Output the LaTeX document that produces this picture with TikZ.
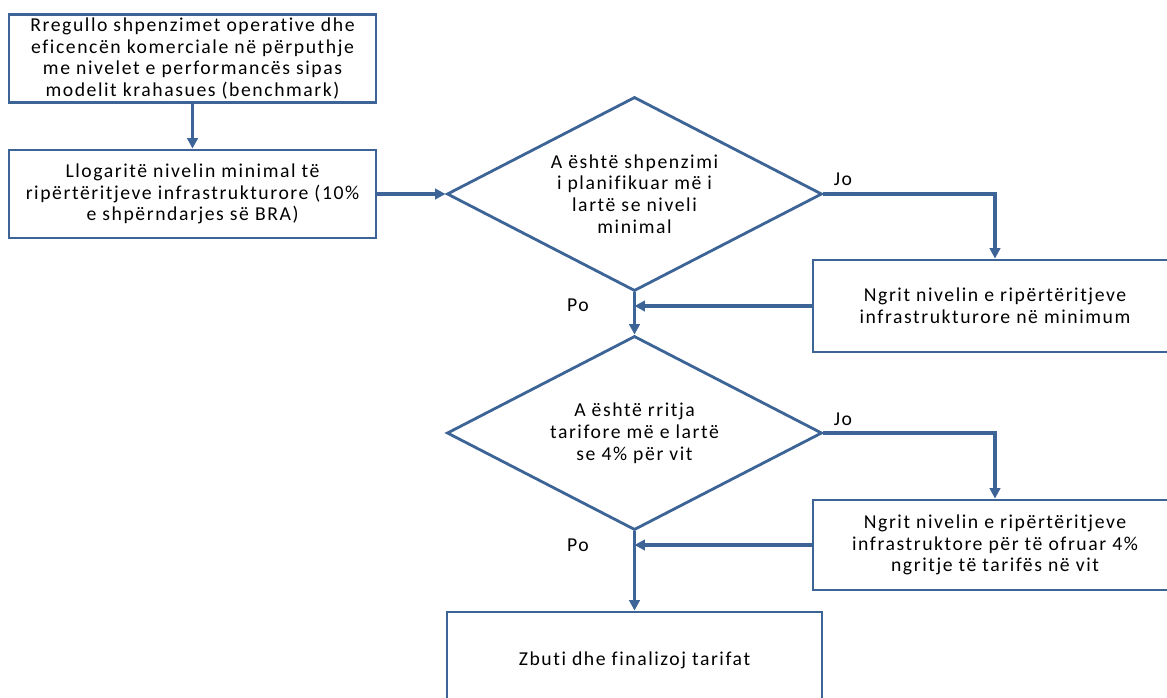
\documentclass[tikz,border=0pt]{standalone}
\usepackage{fontspec}
\setmainfont{Carlito}[LetterSpace=8,Ligatures={NoCommon,NoRare}]
\usetikzlibrary{arrows.meta,shapes.geometric}
\definecolor{flowblue}{RGB}{60,100,150}

\begin{document}
\begin{tikzpicture}[x=0.025cm,y=-0.025cm,
    font=\fontsize{14}{15.5}\selectfont,
    box/.style={draw=flowblue,line width=2pt,align=center,inner sep=0pt},
    ask/.style={draw=flowblue,line width=2pt,align=center,inner sep=0pt,shape=diamond,aspect=1.93,minimum width=9.375cm,minimum height=4.85cm},
    arr/.style={draw=flowblue,line width=2.2pt,-{Triangle[length=2.6mm,width=2.6mm]}}]
    \useasboundingbox (0,0) rectangle (1167,698);

    \node[box,minimum width=9.175cm,minimum height=2.2cm] (adjust) at (192.5,58.5)
        {Rregullo shpenzimet operative dhe\\eficencën komerciale në përputhje\\me nivelet e performancës sipas\\modelit krahasues (benchmark)};
    \node[box,minimum width=9.175cm,minimum height=2.2cm] (minlevel) at (192.5,194)
        {Llogaritë nivelin minimal të\\ripërtëritjeve infrastrukturore (10\%\\e shpërndarjes së BRA)};
    \node[ask] (askmin) at (634.5,194)
        {A është shpenzimi\\i planifikuar më i\\lartë se niveli\\minimal};
    \node[box,minimum width=9.1cm,minimum height=2.3cm] (raisemin) at (995,306)
        {Ngrit nivelin e ripërtëritjeve\\infrastrukturore në minimum};
    \node[ask] (asktariff) at (634.5,433)
        {A është rritja\\tarifore më e lartë\\se 4\% për vit};
    \node[box,minimum width=9.1cm,minimum height=2.25cm] (raisefour) at (995,545)
        {Ngrit nivelin e ripërtëritjeve\\infrastruktore për të ofruar 4\%\\ngritje të tarifës në vit};
    \node[box,minimum width=9.375cm,minimum height=2.4cm] (finalize) at (634.5,660)
        {Zbuti dhe finalizoj tarifat};

    \node (nomin) at (843,179) {Jo};
    \node (yesmin) at (578,305) {Po};
    \node (notariff) at (843,419) {Jo};
    \node (yestariff) at (578,545) {Po};

    \draw[arr] (adjust) -- (minlevel);
    \draw[arr] (minlevel) -- (askmin);
    \draw[arr] (askmin.east) -| (raisemin.north);
    \draw[arr] (askmin.south) -- (asktariff.north);
    \draw[arr] (raisemin.west) -- (raisemin.west -| askmin.south);
    \draw[arr] (asktariff.east) -| (raisefour.north);
    \draw[arr] (asktariff.south) -- (finalize.north);
    \draw[arr] (raisefour.west) -- (raisefour.west -| asktariff.south);
\end{tikzpicture}
\end{document}
